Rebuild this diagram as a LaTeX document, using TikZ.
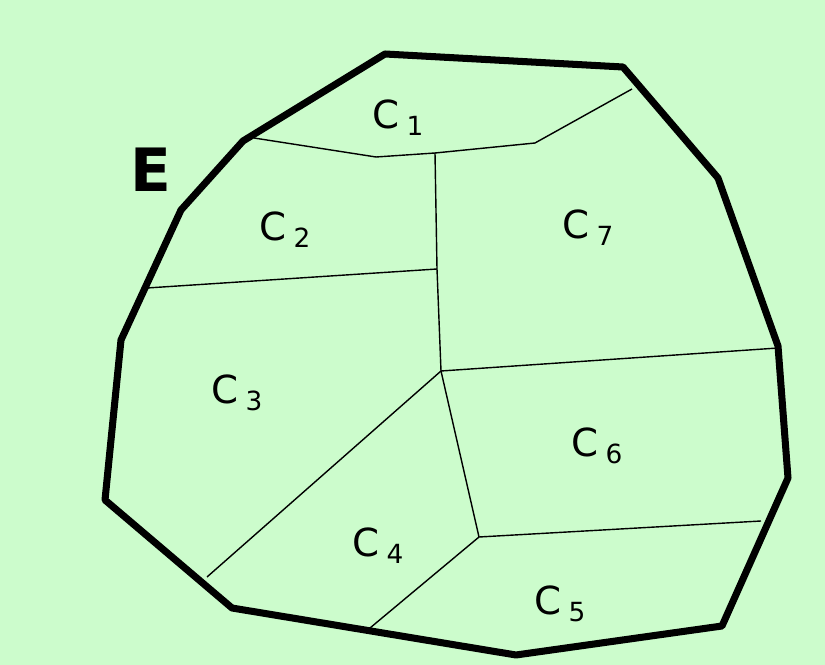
\documentclass[tikz,border=0pt]{standalone}
\usepackage{fontspec}
\setsansfont{DejaVu Sans}
\usetikzlibrary{calc}
\definecolor{pagegreen}{RGB}{204,252,204}
\newcommand{\cellname}[1]{C\kern4pt\raisebox{-4pt}{\fontsize{15}{15}\selectfont #1}}

\begin{document}
\begin{tikzpicture}[
  x=0.02cm, y=-0.02cm,
  hull/.style={line width=4pt, line join=round},
  wall/.style={line width=0.8pt},
  celllabel/.style={font=\sffamily\fontsize{22}{22}\selectfont, inner sep=0pt},
  setlabel/.style={font=\sffamily\bfseries\fontsize{34}{34}\selectfont, inner sep=0pt}
]

%% Background
\fill[pagegreen] (0,0) rectangle (825,665);
\useasboundingbox (0,0) rectangle (825,665);

%% ── Hull corners ─────────────────────────────────────────────
\coordinate (h1)  at (385, 54);
\coordinate (h2)  at (623, 67);
\coordinate (h3)  at (718,178);
\coordinate (h4)  at (778,346);
\coordinate (h5)  at (788,478);
\coordinate (h6)  at (722,626);
\coordinate (h7)  at (516,655);
\coordinate (h8)  at (232,608);
\coordinate (h9)  at (105,500);
\coordinate (h10) at (121,340);
\coordinate (h11) at (181,210);
\coordinate (h12) at (243,141);

%% ── Inner vertices ───────────────────────────────────────────
\coordinate (v1) at (376,157);
\coordinate (v2) at (435,153);
\coordinate (v3) at (535,143);
\coordinate (v4) at (437,269);
\coordinate (v5) at (441,371);
\coordinate (v6) at (479,537);

%% Points on the hull where walls end
\coordinate (w1) at (254,138);
\coordinate (w2) at (632, 89);
\coordinate (w3) at (147,288);
\coordinate (w4) at (778,348);
\coordinate (w5) at (207,577);
\coordinate (w6) at (370,628);
\coordinate (w7) at (761,521);

%% Walls between cells
\draw[wall] (w1) -- (v1) -- (v2) -- (v3) -- (w2);
\draw[wall] (v2) -- (v4) -- (v5);
\draw[wall] (w3) -- (v4);
\draw[wall] (v5) -- (w4);
\draw[wall] (v5) -- (w5);
\draw[wall] (v5) -- (v6);
\draw[wall] (v6) -- (w6);
\draw[wall] (v6) -- (w7);

%% Hull
\draw[hull] (h1) -- (h2) -- (h3) -- (h4) -- (h5) -- (h6) -- (h7)
  -- (h8) -- (h9) -- (h10) -- (h11) -- (h12) -- cycle;

%% Labels
\node[setlabel] (setE) at (151,170) {E};
\node[celllabel] (c1) at (398,118) {\cellname{1}};
\node[celllabel] (c2) at (285,230) {\cellname{2}};
\node[celllabel] (c3) at (237,393) {\cellname{3}};
\node[celllabel] (c4) at (378,546) {\cellname{4}};
\node[celllabel] (c5) at (560,604) {\cellname{5}};
\node[celllabel] (c6) at (597,446) {\cellname{6}};
\node[celllabel] (c7) at (588,228) {\cellname{7}};

\end{tikzpicture}
\end{document}
